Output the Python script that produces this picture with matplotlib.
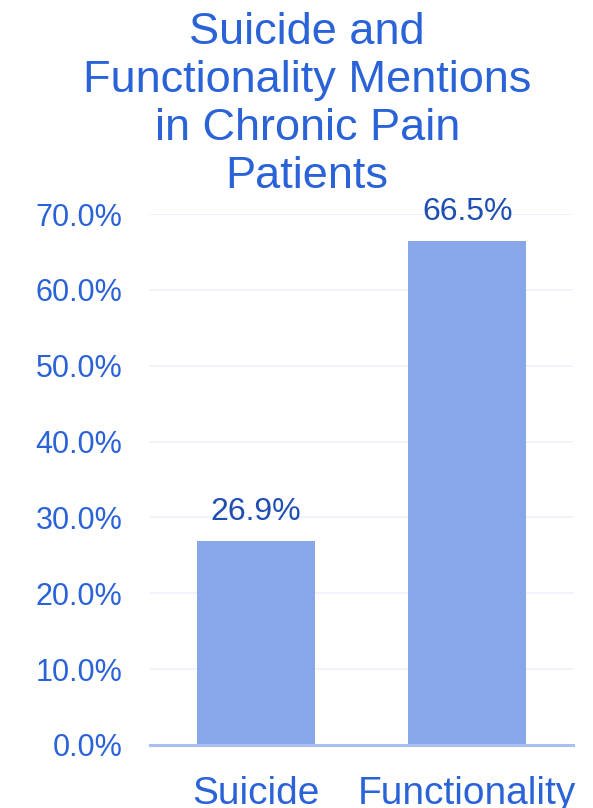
import matplotlib
matplotlib.use("Agg")
import matplotlib.pyplot as plt
from matplotlib.ticker import FuncFormatter, MultipleLocator

categories = ["Suicide", "Functionality"]
values = [26.9, 66.5]
title = "Suicide and\nFunctionality Mentions\nin Chronic Pain\nPatients"

plt.rcParams['font.family'] = ['Liberation Sans', 'DejaVu Sans']

blue = "#2a62d8"
dark = "#1f4fb3"
bar_c = "#88a7e8"

fig = plt.figure(figsize=(5.93, 8.08), dpi=100)
ax = fig.add_axes([0.253, 0.078, 0.713, 0.657])
x = list(range(len(categories)))
bars = ax.bar(x, values, width=0.56, color=bar_c, zorder=2)
ax.set_xlim(-0.5, 1.5)
ax.set_ylim(0, 70)
ax.yaxis.set_major_locator(MultipleLocator(10))
ax.yaxis.set_major_formatter(FuncFormatter(lambda v, p: f"{v:.1f}%"))
ax.grid(axis='y', color="#edf1fb", linewidth=1.2, zorder=0)
for s in ['top', 'right', 'left']:
    ax.spines[s].set_visible(False)
ax.spines['bottom'].set_color("#a9c0f0")
ax.spines['bottom'].set_linewidth(2.2)
ax.spines['bottom'].set_zorder(3)
ax.set_xticks(x)
ax.set_xticklabels(categories)
ax.tick_params(axis='x', length=0, pad=22, labelsize=28, labelcolor=blue)
ax.tick_params(axis='y', length=0, pad=20, labelsize=22, labelcolor=blue)
for xi, v in zip(x, values):
    ax.annotate(f"{v:.1f}%", (xi, v), xytext=(0, 10), textcoords='offset points',
                ha='center', va='bottom', fontsize=23, color=dark)
fig.text(0.518, 0.871, title, ha='center', va='center', fontsize=32.5,
         color=blue, linespacing=1.22)
fig.savefig("out.png", dpi=100)
